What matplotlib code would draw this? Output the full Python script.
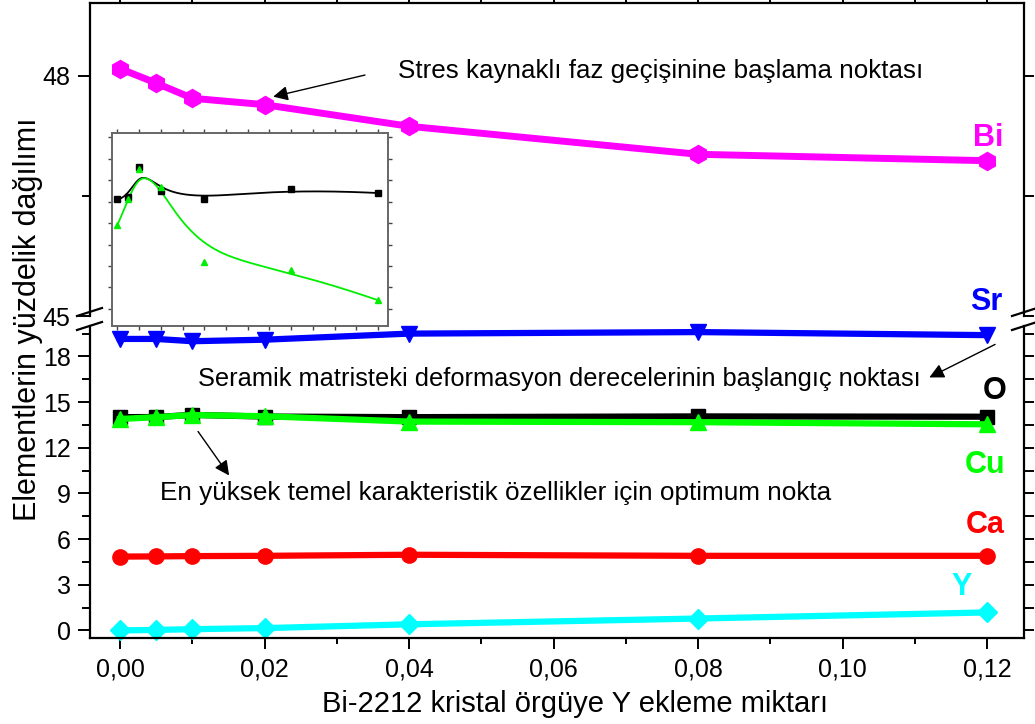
import numpy as np
import matplotlib
matplotlib.use('Agg')
import matplotlib.pyplot as plt
from matplotlib.ticker import MultipleLocator, FuncFormatter
from matplotlib.lines import Line2D

plt.rcParams['font.family'] = ['Liberation Sans', 'DejaVu Sans']

# Y katkı miktarı
x = [0.0, 0.005, 0.01, 0.02, 0.04, 0.08, 0.12]

# element yüzdeleri
bi = [48.09, 47.91, 47.72, 47.64, 47.37, 47.02, 46.94]
sr = [19.15, 19.15, 19.0, 19.1, 19.5, 19.6, 19.4]
o = [14.01, 14.02, 14.16, 14.05, 14.01, 14.06, 14.04]
cu = [13.89, 14.01, 14.15, 14.07, 13.72, 13.68, 13.54]
ca = [4.85, 4.86, 4.88, 4.9, 4.97, 4.9, 4.9]
y_el = [0.0, 0.03, 0.08, 0.15, 0.4, 0.78, 1.18]

W, H = 1035, 724


def px(xp, yp):
    # piksel -> figure koordinatı
    return xp / W, 1 - yp / H


def bspline(xs, ys, n=300):
    """Origin tarzı B-spline (veri noktaları kontrol noktası)"""
    P = np.column_stack([xs, ys]).astype(float)
    k = 3
    m = len(P)
    t = np.concatenate([np.zeros(k + 1), np.arange(1, m - k), np.full(k + 1, m - k)])
    out = []
    for u in np.linspace(0, m - k, n):
        s = min(np.searchsorted(t, u, side='right') - 1, m - 1)
        d = [P[j + s - k].copy() for j in range(k + 1)]
        for r in range(1, k + 1):
            for j in range(k, r - 1, -1):
                i = j + s - k
                den = t[i + k + 1 - r] - t[i]
                a = (u - t[i]) / den if den else 0.0
                d[j] = (1 - a) * d[j - 1] + a * d[j]
        out.append(d[k])
    out = np.array(out)
    return out[:, 0], out[:, 1]


fig = plt.figure(figsize=(W / 100, H / 100), dpi=100)

left, right = 90, 1024
ax_up = fig.add_axes([left / W, 1 - 316 / H, (right - left) / W, (316 - 3) / H])
ax_lo = fig.add_axes([left / W, 1 - 638 / H, (right - left) / W, (638 - 326) / H])

xlim = (-0.00415, 0.1251)
for ax in (ax_up, ax_lo):
    ax.set_xlim(*xlim)
    ax.set_facecolor('none')
    for sp in ax.spines.values():
        sp.set_linewidth(1.6)
    ax.tick_params(which='both', direction='out', width=1.4, labelsize=18)
    ax.tick_params(axis='y', which='major', length=9, pad=5)
    ax.tick_params(axis='y', which='minor', length=6)

ax_up.set_ylim(45, 48.91)
ax_lo.set_ylim(-0.5, 20)
ax_up.spines['bottom'].set_visible(False)
ax_lo.spines['top'].set_visible(False)

ax_up.yaxis.set_major_locator(MultipleLocator(3))
ax_up.yaxis.set_minor_locator(MultipleLocator(1.5))
ax_lo.yaxis.set_major_locator(MultipleLocator(3))
ax_lo.yaxis.set_minor_locator(MultipleLocator(1.5))

ax_up.tick_params(axis='x', which='both', bottom=False, labelbottom=False,
                  top=True, length=8)
ax_up.xaxis.set_major_locator(MultipleLocator(0.01))
ax_up.tick_params(axis='y', which='both', right=True)

ax_lo.xaxis.set_major_locator(MultipleLocator(0.02))
ax_lo.xaxis.set_minor_locator(MultipleLocator(0.01))
ax_lo.tick_params(axis='x', which='major', length=8, pad=6)
ax_lo.tick_params(axis='x', which='minor', length=4)
ax_lo.tick_params(axis='y', which='both', right=True)
ax_lo.xaxis.set_major_formatter(FuncFormatter(lambda v, p: f'{v:.2f}'.replace('.', ',')))

# sağ eksen tikleri kısa
for ax in (ax_up, ax_lo):
    for t in ax.yaxis.get_major_ticks() + ax.yaxis.get_minor_ticks():
        t.tick2line.set_markersize(7)

lw = 4.5
ms = 11
ax_up.plot(x, bi, '-h', color='#FF00FF', lw=5, ms=13, clip_on=False)
ax_lo.plot(x, sr, '-v', color='#0000FF', lw=lw, ms=ms, clip_on=False)
ax_lo.plot(x, o, '-s', color='black', lw=lw, ms=ms - 1, clip_on=False)
ax_lo.plot(x, cu, '-^', color='#00FF00', lw=lw, ms=ms, clip_on=False)
ax_lo.plot(x, ca, '-o', color='#FF0000', lw=lw, ms=ms, clip_on=False)
ax_lo.plot(x, y_el, '-D', color='#00FFFF', lw=lw, ms=ms - 1, clip_on=False)

# element etiketleri
lab = dict(fontsize=22, fontweight='bold', ha='center', va='center')
ax_up.text(0.1201, 47.225, 'Bi', color='#FF00FF', **lab)
ax_lo.text(0.1199, 21.6, 'Sr', color='#0000FF', **lab)
ax_lo.text(0.1211, 15.7, 'O', color='black', **lab)
ax_lo.text(0.1197, 10.84, 'Cu', color='#00FF00', **lab)
ax_lo.text(0.1197, 6.9, 'Ca', color='#FF0000', **lab)
ax_lo.text(0.1165, 2.83, 'Y', color='#00FFFF', **lab)

# açıklamalar
arr = dict(arrowstyle='-|>', color='black', lw=1, mutation_scale=22, shrinkA=0, shrinkB=0)
ax_up.text(0.0385, 48.06, 'Stres kaynaklı faz geçişinine başlama noktası',
           fontsize=18.7, ha='left', va='center')
ax_up.annotate('', xy=(0.0212, 47.74), xytext=(0.0339, 48.01), arrowprops=arr)

ax_lo.text(0.0108, 16.49, 'Seramik matristeki deformasyon derecelerinin başlangıç noktası',
           fontsize=18.3, ha='left', va='center')
ax_lo.annotate('', xy=(0.1120, 16.62), xytext=(0.1211, 18.79), arrowprops=arr,
               annotation_clip=False)

ax_lo.text(0.00554, 9.0, 'En yüksek temel karakteristik özellikler için optimum nokta',
           fontsize=18.8, ha='left', va='center')
ax_lo.annotate('', xy=(0.0151, 10.18), xytext=(0.0108, 13.07), arrowprops=arr)

# eksen başlıkları
fig.text(*px(575, 704), 'Bi-2212 kristal örgüye Y ekleme miktarı', fontsize=21,
         ha='center', va='center')
fig.text(*px(28, 319), 'Elementlerin yüzdelik dağılımı', fontsize=22,
         ha='center', va='center', rotation=90)

# kırık eksen işaretleri
for x0 in (77, 1012):
    for y0 in (316, 330):
        fig.add_artist(Line2D([x0 / W, (x0 + 25) / W],
                              [1 - y0 / H, 1 - (y0 - 8) / H],
                              color='black', lw=1.6, transform=fig.transFigure))

# iç grafik: O ve Cu
ins = fig.add_axes([111.7 / W, 1 - 326 / H, 276 / W, 193 / H])
ins.set_facecolor('white')
ins.set_xlim(-0.0026, 0.1244)
ins.set_ylim(13.42, 14.32)
ins.xaxis.set_major_locator(MultipleLocator(0.01))
ins.yaxis.set_major_locator(MultipleLocator(0.1))
ins.tick_params(which='both', direction='out', length=3, width=1, color='#444444',
                labelleft=False, labelbottom=False, top=True, right=True)
for sp in ins.spines.values():
    sp.set_color('#666666')
    sp.set_linewidth(1.4)

bx, by = bspline(x, o)
ins.plot(bx, by, color='black', lw=1.3)
bx, by = bspline(x, cu)
ins.plot(bx, by, color='#00EE00', lw=1.3)
ins.plot(x, o, 's', color='black', ms=4, ls='none')
ins.plot(x, cu, '^', color='#00EE00', ms=5, ls='none')

fig.savefig('out.png', dpi=100)
